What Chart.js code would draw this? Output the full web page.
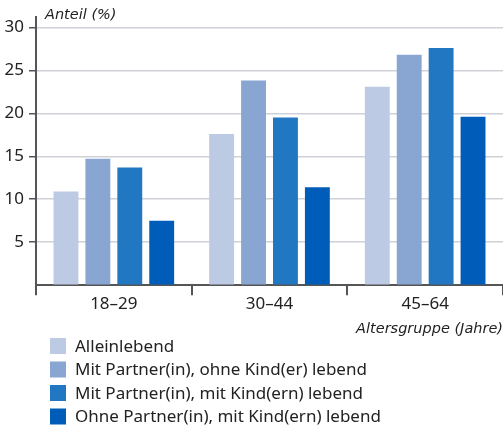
<!DOCTYPE html>
<html lang="de">
<head>
<meta charset="utf-8">
<title>Anteil nach Altersgruppe</title>
<script src="https://cdn.jsdelivr.net/npm/chart.js@4.4.1/dist/chart.umd.min.js"></script>
<style>
    html, body { margin: 0; padding: 0; background: #ffffff; }
    canvas { display: block; }
</style>
</head>
<body>
<canvas id="barChart" width="503" height="429"></canvas>
<script>
// Datos
const categorias = ['18\u201329', '30\u201344', '45\u201364'];
const series = [
    'Alleinlebend',
    'Mit Partner(in), ohne Kind(er) lebend',
    'Mit Partner(in), mit Kind(ern) lebend',
    'Ohne Partner(in), mit Kind(ern) lebend'
];
const alleinlebend = [10.9, 17.6, 23.1];
const mitPartnerOhneKind = [14.7, 23.8, 26.8];
const mitPartnerMitKind = [13.7, 19.5, 27.6];
const ohnePartnerMitKind = [7.5, 11.4, 19.6];
const yTitulo = 'Anteil (%)';
const xTitulo = 'Altersgruppe (Jahre)';

const colores = ['#bdcae3', '#88a6d1', '#2277c3', '#005cb9'];
const valores = [alleinlebend, mitPartnerOhneKind, mitPartnerMitKind, ohnePartnerMitKind];

const fuente = '"Noto Sans", "DejaVu Sans", sans-serif';
const fuenteCursiva = '"DejaVu Sans", "Noto Sans", sans-serif';
const texto = '#222222';
const ejeColor = '#555555';

// Leyenda vertical dibujada en el canvas (una fila por serie)
const leyendaVertical = {
    id: 'leyendaVertical',
    afterDraw(chart) {
        const c = chart.ctx;
        const x0 = 50, y0 = 346, paso = 23.5, caja = 16;
        c.save();
        c.font = '17px ' + fuente;
        c.textBaseline = 'middle';
        c.textAlign = 'left';
        chart.data.datasets.forEach(function(ds, i) {
            const y = y0 + i * paso;
            c.fillStyle = ds.backgroundColor;
            c.fillRect(x0, y - caja / 2, caja, caja);
            c.fillStyle = texto;
            c.fillText(ds.label, x0 + 25, y + 1);
        });
        c.restore();
    }
};

// Título del eje Y, horizontal junto al extremo superior del eje
const tituloY = {
    id: 'tituloY',
    afterDraw(chart) {
        const c = chart.ctx;
        c.save();
        c.font = 'italic 14.5px ' + fuenteCursiva;
        c.fillStyle = texto;
        c.textBaseline = 'middle';
        c.textAlign = 'left';
        c.fillText(yTitulo, chart.chartArea.left + 9, 15);
        c.restore();
    }
};

const ctx = document.getElementById('barChart').getContext('2d');

new Chart(ctx, {
    type: 'bar',
    data: {
        labels: categorias,
        datasets: series.map(function(nombre, i) {
            return {
                label: nombre,
                data: valores[i],
                backgroundColor: colores[i],
                borderWidth: 0,
                categoryPercentage: 0.82,
                barPercentage: 0.78
            };
        })
    },
    options: {
        responsive: false,
        animation: false,
        layout: {
            padding: { top: 17, right: 0, bottom: 90, left: 0 }
        },
        plugins: {
            legend: { display: false },
            tooltip: { enabled: false }
        },
        scales: {
            x: {
                offset: true,
                border: { color: ejeColor, width: 2 },
                grid: {
                    offset: true,
                    drawOnChartArea: false,
                    drawTicks: true,
                    tickLength: 10,
                    tickColor: ejeColor,
                    lineWidth: 2
                },
                ticks: {
                    color: texto,
                    padding: -1,
                    font: { family: fuente, size: 17 }
                },
                title: {
                    display: true,
                    text: xTitulo,
                    align: 'end',
                    color: texto,
                    font: { family: fuenteCursiva, size: 14.5, style: 'italic' },
                    padding: { top: 7, bottom: 1 }
                }
            },
            y: {
                min: 0,
                max: 31.2,
                afterFit: function(scale) { scale.width = 36; },
                border: { color: ejeColor, width: 2 },
                grid: {
                    color: function(c) { return c.tick && c.tick.value === 0 ? 'rgba(0,0,0,0)' : '#cfd1d9'; },
                    tickColor: function(c) { return c.tick && c.tick.value === 0 ? 'rgba(0,0,0,0)' : ejeColor; },
                    lineWidth: 1.5,
                    tickLength: 7
                },
                ticks: {
                    stepSize: 5,
                    includeBounds: false,
                    padding: 5,
                    color: texto,
                    font: { family: fuente, size: 17 },
                    callback: function(value) { return value === 0 ? '' : value; }
                }
            }
        }
    },
    plugins: [leyendaVertical, tituloY]
});
</script>
</body>
</html>
